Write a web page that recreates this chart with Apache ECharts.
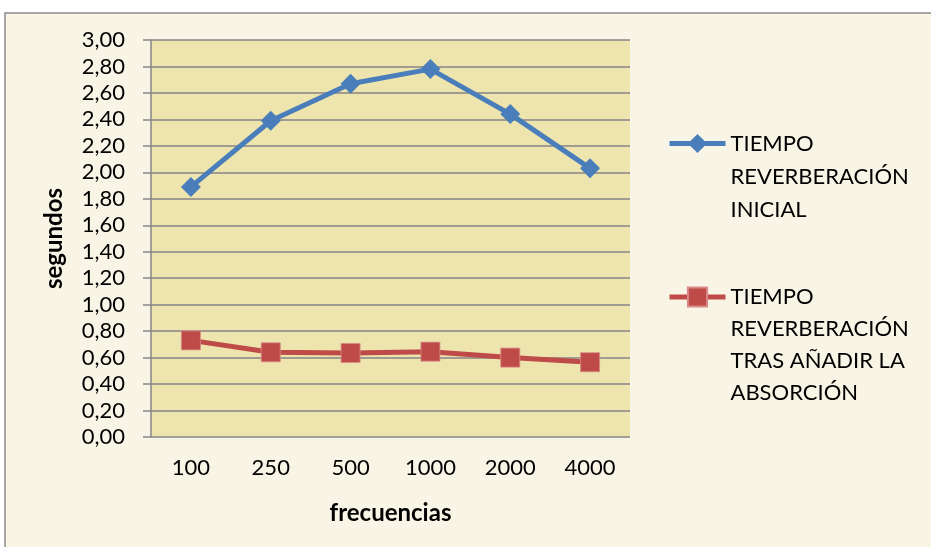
<!DOCTYPE html>
<html>
<head>
<meta charset="utf-8">
<script src="https://cdn.jsdelivr.net/npm/echarts@6/dist/echarts.min.js"></script>
<style>
html,body{margin:0;padding:0;background:#ffffff;}
#main{width:931px;height:547px;}
</style>
</head>
<body>
<div id="main"></div>
<script>
const categories = ['100', '250', '500', '1000', '2000', '4000'];
const inicial = [1.89, 2.39, 2.67, 2.78, 2.44, 2.03];
const absorcion = [0.73, 0.64, 0.635, 0.645, 0.60, 0.565];
const seriesNames = ['TIEMPO REVERBERACIÓN INICIAL', 'TIEMPO REVERBERACIÓN TRAS AÑADIR LA ABSORCIÓN'];
const legendLines = [
  ['TIEMPO', 'REVERBERACIÓN', 'INICIAL'],
  ['TIEMPO', 'REVERBERACIÓN', 'TRAS AÑADIR LA', 'ABSORCIÓN']
];
const yMin = 0, yMax = 3, yStep = 0.2;

const FONT = 'Lato';
const chart = echarts.init(document.getElementById('main'), null, {renderer: 'canvas'});

function legendText(lines) {
  // pad with leading blank lines so the first line sits level with the icon
  return '\n'.repeat(lines.length - 1) + lines.join('\n');
}

chart.setOption({
  backgroundColor: '#ffffff',
  animation: false,
  graphic: [{
    type: 'rect',
    z: -10,
    shape: {x: 5, y: 13, width: 940, height: 550},
    style: {fill: '#F9F5E6', stroke: '#8A8A8A', lineWidth: 1.5}
  }],
  grid: {
    left: 151, top: 40, right: 301, bottom: 110,
    show: true, backgroundColor: '#EDE4AE', borderWidth: 0
  },
  legend: [{
    data: [seriesNames[0]],
    left: 667, top: 61, padding: 0,
    itemWidth: 56, itemHeight: 24,
    lineStyle: {width: 5},
    formatter: () => legendText(legendLines[0]),
    textStyle: {fontFamily: FONT, fontSize: 22, color: '#000', lineHeight: 33}
  }, {
    data: [seriesNames[1]],
    left: 667, top: 185, padding: 0,
    itemWidth: 56, itemHeight: 24,
    lineStyle: {width: 5},
    formatter: () => legendText(legendLines[1]),
    textStyle: {fontFamily: FONT, fontSize: 22, color: '#000', lineHeight: 32}
  }],
  xAxis: {
    type: 'category',
    data: categories,
    boundaryGap: true,
    name: 'frecuencias',
    nameLocation: 'middle',
    nameGap: 64,
    nameTextStyle: {fontFamily: FONT, fontSize: 24, fontWeight: 'bold', color: '#000'},
    axisLine: {show: false},
    axisTick: {show: false},
    axisLabel: {fontFamily: FONT, fontSize: 22, color: '#000', margin: 20}
  },
  yAxis: {
    type: 'value',
    min: yMin, max: yMax, interval: yStep,
    name: 'segundos',
    nameLocation: 'middle',
    nameGap: 85,
    nameTextStyle: {fontFamily: FONT, fontSize: 24, fontWeight: 'bold', color: '#000'},
    axisLine: {show: true, lineStyle: {color: '#868686', width: 1.5}},
    axisTick: {show: true, length: 8, lineStyle: {color: '#868686', width: 1.5}},
    splitLine: {show: true, lineStyle: {color: '#868686', width: 1.5}},
    axisLabel: {
      fontFamily: FONT, fontSize: 22, color: '#000', margin: 26,
      formatter: v => v.toFixed(2).replace('.', ',')
    }
  },
  series: [{
    name: seriesNames[0],
    type: 'line',
    data: inicial,
    symbol: 'diamond',
    symbolSize: 20,
    lineStyle: {color: '#4A7EBB', width: 5},
    itemStyle: {color: '#4A7EBB'}
  }, {
    name: seriesNames[1],
    type: 'line',
    data: absorcion,
    symbol: 'rect',
    symbolSize: 19,
    lineStyle: {color: '#BE4B48', width: 5},
    itemStyle: {color: '#BE4B48', borderColor: '#D98A88', borderWidth: 0.8}
  }]
});
</script>
</body>
</html>
